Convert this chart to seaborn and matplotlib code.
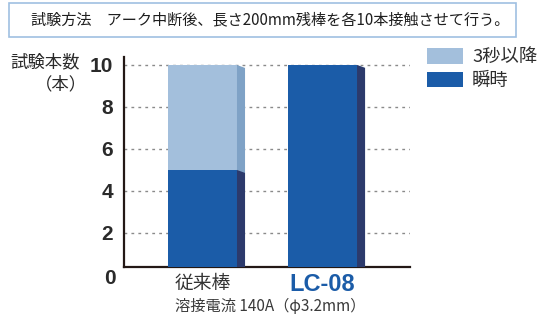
import matplotlib.pyplot as plt
import seaborn as sns
import pandas as pd
from matplotlib.patches import Polygon, Rectangle

# data
categories = ["従来棒", "LC-08"]
instant = [5, 10]     # 瞬時
delayed = [5, 0]      # 3秒以降
yticks = [2, 4, 6, 8, 10]

LIGHT = "#a3bfdc"
DARK = "#1b5ca8"
LIGHT_SIDE = "#7fa2c6"
DARK_SIDE = "#2c3a6c"
TEXT = "#2a2a2a"

sns.set_theme(style="white")
plt.rcParams['font.family'] = ['Noto Sans CJK JP', 'DejaVu Sans']

df = pd.DataFrame({
    "rod": categories,
    "instant": instant,
    "total": [a + b for a, b in zip(instant, delayed)],
})

fig = plt.figure(figsize=(5.43, 3.15), dpi=100)
ax = fig.add_axes([124 / 543, 48 / 315, 286 / 543, 210 / 315])

# stacked bars: total in light colour, instant part on top in dark colour
sns.barplot(data=df, x="rod", y="total", color=LIGHT, saturation=1, width=0.575,
            linewidth=0, label="3秒以降", ax=ax, zorder=2)
sns.barplot(data=df, x="rod", y="instant", color=DARK, saturation=1, width=0.575,
            linewidth=0, label="瞬時", ax=ax, zorder=3)

# fake 3D side faces derived from the bar patches
dx, dy = 0.067, 0.14
n = len(categories)
for i, p in enumerate(list(ax.patches)):
    if p.get_height() <= 0:
        continue
    side = LIGHT_SIDE if i < n else DARK_SIDE
    x1 = p.get_x() + p.get_width()
    y0 = p.get_y()
    y1 = y0 + p.get_height()
    ax.add_patch(Polygon([(x1, y0), (x1, y1), (x1 + dx, y1 - dy), (x1 + dx, y0)],
                         closed=True, facecolor=side, edgecolor="none",
                         zorder=p.get_zorder()))

ax.set_xlim(-0.654, 1.729)
ax.set_ylim(0.38, 10.38)
ax.set_yticks(yticks)
ax.yaxis.grid(True, linestyle=(0, (2, 3)), color="#8a8a8a", linewidth=1)
ax.xaxis.grid(False)
ax.set_axisbelow(True)
ax.set_xlabel("")
ax.set_ylabel("")

for s in ["top", "right"]:
    ax.spines[s].set_visible(False)
for s in ["left", "bottom"]:
    ax.spines[s].set_linewidth(1.6)
    ax.spines[s].set_color("#231815")

num_font = ["Liberation Sans", "DejaVu Sans"]
ax.tick_params(axis="y", length=0, pad=8, labelsize=15)
for lab in ax.get_yticklabels():
    lab.set_fontweight("bold")
    lab.set_family(num_font)
    lab.set_color(TEXT)
# the zero label sits below the baseline in the original
ax.text(-0.03, -0.15, "0", transform=ax.get_yaxis_transform(), ha="right", va="center",
        fontsize=15, fontweight="bold", family=num_font, color=TEXT, clip_on=False)

ax.tick_params(axis="x", length=0, pad=4)
xl = ax.get_xticklabels()
xl[0].set_fontsize(13.5)
xl[0].set_color("#333333")
xl[1].set_fontsize(17)
xl[1].set_fontweight("bold")
xl[1].set_family(num_font)
xl[1].set_color(DARK)

# y axis title
fig.text(45 / 543, 1 - 62 / 315, "試験本数", ha="center", va="center", fontsize=12.5, color=TEXT)
fig.text(61 / 543, 1 - 84 / 315, "（本）", ha="center", va="center", fontsize=12.5, color=TEXT)

# bottom caption
fig.text(270 / 543, 1 - 306 / 315, "溶接電流 140A（φ3.2mm）", ha="center", va="center",
         fontsize=11, color="#3a3a3a")

# header box
fig.patches.append(Rectangle((9 / 543, 1 - 37 / 315), 507 / 543, 34 / 315,
                             transform=fig.transFigure, fill=False,
                             edgecolor="#9fc0e2", linewidth=1.2))
fig.text(270 / 543, 1 - 20 / 315, "試験方法　アーク中断後、長さ200mm残棒を各10本接触させて行う。",
         ha="center", va="center", fontsize=10.9, color="#1e1e1e")

handles, labels = ax.get_legend_handles_labels()
leg = ax.legend(handles, labels, loc="upper left", bbox_to_anchor=(427 / 543, 1 - 48 / 315),
                bbox_transform=fig.transFigure, frameon=False, fontsize=13.2,
                handlelength=1.96, handleheight=0.93, labelspacing=0.3,
                handletextpad=0.5, borderpad=0, borderaxespad=0)
for t in leg.get_texts():
    t.set_color("#2e2e2e")

fig.savefig("out.png", dpi=100)
